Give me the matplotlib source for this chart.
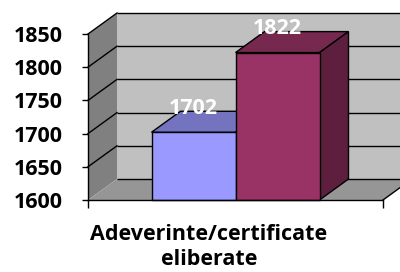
import matplotlib
matplotlib.use("Agg")
import matplotlib.pyplot as plt
from matplotlib.patches import Polygon

# ---- data ----
category_label = "Adeverinte/certificate\neliberate"
series_values = [1702, 1822]
y_ticks = [1600, 1650, 1700, 1750, 1800, 1850]
y_min, y_max = 1600, 1850

# ---- style ----
front_colors = ["#9999ff", "#993366"]
top_colors = ["#7373bf", "#77284f"]
side_colors = ["#5c5c99", "#5e1f3f"]
back_wall = "#c0c0c0"
side_wall = "#808080"
floor_col = "#969696"
FONT = ["Open Sans", "DejaVu Sans"]
FS = 15.5

W, H, DPI = 400, 272, 100
fig = plt.figure(figsize=(W / DPI, H / DPI), dpi=DPI)
ax_l, ax_b, ax_w, ax_h = 88, 72, 295, 166  # pixels of the front plane
ax = fig.add_axes([ax_l / W, ax_b / H, ax_w / W, ax_h / H])
ax.set_xlim(0, 1)
ax.set_ylim(y_min, y_max)

# depth offset (pixels -> data units)
depth_px = (29, 21)
dx = depth_px[0] / ax_w * (1 - 0)
dy = depth_px[1] / ax_h * (y_max - y_min)

def poly(pts, fc, z, ec="none", lw=0):
    ax.add_patch(Polygon(pts, closed=True, facecolor=fc, edgecolor=ec,
                         linewidth=lw, zorder=z, clip_on=False, joinstyle="miter"))

# back wall
poly([(dx, y_min + dy), (1 + dx, y_min + dy), (1 + dx, y_max + dy), (dx, y_max + dy)], back_wall, 1)
# side wall
poly([(0, y_min), (dx, y_min + dy), (dx, y_max + dy), (0, y_max)], side_wall, 1)
# floor
poly([(0, y_min), (1, y_min), (1 + dx, y_min + dy), (dx, y_min + dy)], floor_col, 1)

# gridlines on walls
for v in y_ticks:
    ax.plot([dx, 1 + dx], [v + dy, v + dy], color="black", lw=1, zorder=2, clip_on=False,
            solid_capstyle="butt")
    if v > y_min:
        ax.plot([0, dx], [v, v + dy], color="black", lw=1, zorder=2, clip_on=False)
# floor right edge
ax.plot([1, 1 + dx], [y_min, y_min + dy], color="black", lw=1, zorder=2, clip_on=False)

# bars
n = len(series_values)
bw = 84 / ax_w
start = 0.5 - n * bw / 2
for i, v in enumerate(series_values):
    x0 = start + i * bw
    x1 = x0 + bw
    z = 3 + i * 3
    ax.bar(x0, v - y_min, width=bw, bottom=y_min, align="edge", color=front_colors[i],
           edgecolor="black", linewidth=1, zorder=z + 2, clip_on=False)
    poly([(x0, v), (x1, v), (x1 + dx, v + dy), (x0 + dx, v + dy)], top_colors[i], z,
         ec="black", lw=1)
    poly([(x1, y_min), (x1 + dx, y_min + dy), (x1 + dx, v + dy), (x1, v)], side_colors[i], z,
         ec="black", lw=1)
    ax.annotate(str(v), xy=((x0 + x1) / 2, v), xytext=(0, 24), textcoords="offset pixels",
                ha="center", va="center", color="white", fontsize=FS, fontweight="bold",
                family=FONT, zorder=20, annotation_clip=False)

# axes styling
for s in ["top", "right"]:
    ax.spines[s].set_visible(False)
ax.spines["left"].set_zorder(10)
ax.spines["bottom"].set_zorder(10)
ax.spines["left"].set_linewidth(1)
ax.spines["bottom"].set_linewidth(1)
ax.set_facecolor("none")
ax.set_yticks(y_ticks)
ax.set_yticklabels([str(t) for t in y_ticks], fontsize=FS, fontweight="bold", family=FONT)
ax.tick_params(axis="y", direction="out", length=4.3, width=1, pad=13.5)
ax.set_xticks([0, 1])
ax.set_xticklabels(["", ""])
ax.tick_params(axis="x", direction="out", length=5.8, width=1)

fig.text(209 / W, 1 - 247 / H, category_label, ha="center", va="center", fontsize=FS,
         fontweight="bold", family=FONT, linespacing=1.3)

fig.savefig("out.png", dpi=DPI)
